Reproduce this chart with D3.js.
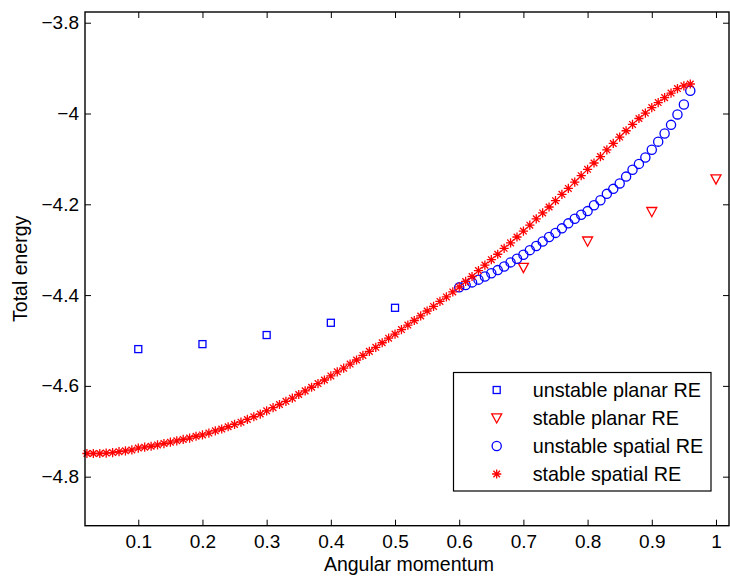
<!DOCTYPE html>
<html>
<head>
<meta charset="utf-8">
<script src="https://cdn.jsdelivr.net/npm/d3@7"></script>
<style>
  html, body { margin: 0; padding: 0; background: #fff; }
  svg { display: block; }
  text { font-family: "Liberation Sans", Arial, Helvetica, sans-serif; fill: #000; }
</style>
</head>
<body>
<svg id="chart" width="730" height="580"></svg>
<script>
// ---- data ----
const seriesNames = ["unstable planar RE", "stable planar RE", "unstable spatial RE", "stable spatial RE"];

const unstablePlanarL = [0.1, 0.2, 0.3, 0.4, 0.5];
const unstablePlanarE = [-4.519, -4.508, -4.488, -4.461, -4.428];

const stablePlanarL = [0.7, 0.8, 0.9, 1.0];
const stablePlanarE = [-4.340, -4.282, -4.217, -4.145];

const unstableSpatialL = [0.60,0.61,0.62,0.63,0.64,0.65,0.66,0.67,0.68,0.69,0.70,0.71,0.72,0.73,0.74,0.75,0.76,0.77,0.78,0.79,
  0.80,0.81,0.82,0.83,0.84,0.85,0.86,0.87,0.88,0.89,0.90,0.91,0.92,0.93,0.94,0.95,0.96];
const unstableSpatialE = [-4.383,-4.378,-4.372,-4.366,-4.359,-4.352,-4.345,-4.337,-4.328,-4.320,
  -4.311,-4.301,-4.292,-4.282,-4.272,-4.263,-4.253,-4.242,-4.232,-4.223,
  -4.215,-4.202,-4.191,-4.177,-4.166,-4.154,-4.139,-4.124,-4.111,-4.097,
  -4.080,-4.062,-4.044,-4.025,-4.002,-3.980,-3.950];

const stableSpatialL = [0.02,0.03,0.04,0.05,0.06,0.07,0.08,0.09,0.10,0.11,0.12,0.13,0.14,0.15,0.16,0.17,0.18,0.19,
  0.20,0.21,0.22,0.23,0.24,0.25,0.26,0.27,0.28,0.29,0.30,0.31,0.32,0.33,0.34,0.35,0.36,0.37,0.38,0.39,
  0.40,0.41,0.42,0.43,0.44,0.45,0.46,0.47,0.48,0.49,0.50,0.51,0.52,0.53,0.54,0.55,0.56,0.57,0.58,0.59,
  0.60,0.61,0.62,0.63,0.64,0.65,0.66,0.67,0.68,0.69,0.70,0.71,0.72,0.73,0.74,0.75,0.76,0.77,0.78,0.79,
  0.80,0.81,0.82,0.83,0.84,0.85,0.86,0.87,0.88,0.89,0.90,0.91,0.92,0.93,0.94,0.95,0.96];
const stableSpatialE = [-4.749,-4.749,-4.749,-4.748,-4.747,-4.745,-4.743,-4.741,
  -4.737,-4.735,-4.733,-4.730,-4.727,-4.724,-4.721,-4.718,-4.715,-4.711,
  -4.708,-4.704,-4.699,-4.695,-4.690,-4.685,-4.680,-4.674,-4.668,-4.662,
  -4.655,-4.648,-4.641,-4.634,-4.627,-4.619,-4.611,-4.603,-4.595,-4.587,
  -4.578,-4.569,-4.561,-4.552,-4.543,-4.533,-4.524,-4.515,-4.505,-4.495,
  -4.486,-4.476,-4.466,-4.456,-4.446,-4.435,-4.425,-4.414,-4.404,-4.393,
  -4.382,-4.370,-4.359,-4.346,-4.334,-4.322,-4.310,-4.297,-4.285,-4.272,
  -4.259,-4.246,-4.232,-4.219,-4.206,-4.192,-4.178,-4.165,-4.151,-4.137,
  -4.123,-4.109,-4.095,-4.080,-4.066,-4.052,-4.038,-4.024,-4.011,-3.999,
  -3.987,-3.976,-3.965,-3.955,-3.945,-3.939,-3.935];

const xTicks = [0.1, 0.2, 0.3, 0.4, 0.5, 0.6, 0.7, 0.8, 0.9, 1];
const yTicks = [-3.8, -4, -4.2, -4.4, -4.6, -4.8];
const xLabel = "Angular momentum";
const yLabel = "Total energy";

// ---- layout ----
const plot = { left: 85, right: 729, top: 12, bottom: 525.7 };
const svg = d3.select("#chart");

const x = d3.scaleLinear().domain([0.017, 1.0203]).range([plot.left, plot.right]);
const y = d3.scaleLinear().domain([-4.908, -3.7764]).range([plot.bottom, plot.top]);

const fmt = d => d3.format("~g")(d);
const FS = 19;
const FS_LABEL = 19.5;
const FS_LEGEND = 19.8;

// axes
const gx = svg.append("g").attr("transform", `translate(0,${plot.bottom})`)
  .call(d3.axisBottom(x).tickValues(xTicks).tickFormat(fmt).tickSizeInner(-6).tickSizeOuter(0).tickPadding(9));
const gxt = svg.append("g").attr("transform", `translate(0,${plot.top})`)
  .call(d3.axisTop(x).tickValues(xTicks).tickFormat("").tickSizeInner(-6).tickSizeOuter(0));
const gy = svg.append("g").attr("transform", `translate(${plot.left},0)`)
  .call(d3.axisLeft(y).tickValues(yTicks).tickFormat(fmt).tickSizeInner(-6).tickSizeOuter(0).tickPadding(6));
const gyr = svg.append("g").attr("transform", `translate(${plot.right},0)`)
  .call(d3.axisRight(y).tickValues(yTicks).tickFormat("").tickSizeInner(-6).tickSizeOuter(0));

[gx, gxt, gy, gyr].forEach(g => {
  g.select(".domain").remove();
  g.selectAll(".tick line").attr("stroke", "#000").attr("stroke-width", 1);
  g.selectAll("text").attr("font-size", FS).attr("font-family", "Liberation Sans, Arial, sans-serif").attr("fill", "#000");
});

// data marks
const BLUE = "#0000ff", RED = "#ff0000";
const SW = 1.3;
const marks = svg.append("g");

function pts(L, E) { return L.map((l, i) => ({ l, e: E[i] })); }

// squares
marks.selectAll("rect.sq").data(pts(unstablePlanarL, unstablePlanarE)).join("rect")
  .attr("class", "sq")
  .attr("x", d => x(d.l) - 3.5).attr("y", d => y(d.e) - 3.5)
  .attr("width", 7).attr("height", 7)
  .attr("fill", "none").attr("stroke", BLUE).attr("stroke-width", SW);

// triangles (down)
const triPath = "M-5,-4.5L5,-4.5L0,4.7Z";
marks.selectAll("path.tri").data(pts(stablePlanarL, stablePlanarE)).join("path")
  .attr("class", "tri")
  .attr("transform", d => `translate(${x(d.l)},${y(d.e)})`)
  .attr("d", triPath)
  .attr("fill", "none").attr("stroke", RED).attr("stroke-width", SW);

// circles
marks.selectAll("circle.ci").data(pts(unstableSpatialL, unstableSpatialE)).join("circle")
  .attr("class", "ci")
  .attr("cx", d => x(d.l)).attr("cy", d => y(d.e)).attr("r", 4.6)
  .attr("fill", "none").attr("stroke", BLUE).attr("stroke-width", SW);

// stars
const r = 4.6, a = 3.3;
const starPath = `M${-r},0H${r}M0,${-r}V${r}M${-a},${-a}L${a},${a}M${-a},${a}L${a},${-a}`;
marks.selectAll("path.st").data(pts(stableSpatialL, stableSpatialE)).join("path")
  .attr("class", "st")
  .attr("transform", d => `translate(${x(d.l)},${y(d.e)})`)
  .attr("d", starPath)
  .attr("fill", "none").attr("stroke", RED).attr("stroke-width", SW);

// axes box
svg.append("rect")
  .attr("x", plot.left).attr("y", plot.top)
  .attr("width", plot.right - plot.left).attr("height", plot.bottom - plot.top)
  .attr("fill", "none").attr("stroke", "#000").attr("stroke-width", 1.4);

// axis labels
svg.append("text").attr("x", (plot.left + plot.right) / 2 + 2).attr("y", 570.5)
  .attr("text-anchor", "middle").attr("font-size", FS_LABEL).text(xLabel);
svg.append("text").attr("transform", `translate(26.5,${(plot.top + plot.bottom) / 2}) rotate(-90)`)
  .attr("text-anchor", "middle").attr("font-size", FS_LABEL).text(yLabel);

// legend
const lg = svg.append("g");
lg.append("rect").attr("x", 453.5).attr("y", 372.5).attr("width", 257.5).attr("height", 118.5)
  .attr("fill", "#fff").attr("stroke", "#000").attr("stroke-width", 1.2);
const rowY = [390, 418.3, 446, 474];
const mx = 496.7, tx = 532.7;
lg.append("rect").attr("x", mx - 3.5).attr("y", rowY[0] - 3.5).attr("width", 7).attr("height", 7)
  .attr("fill", "none").attr("stroke", BLUE).attr("stroke-width", SW);
lg.append("path").attr("transform", `translate(${mx},${rowY[1]})`).attr("d", triPath)
  .attr("fill", "none").attr("stroke", RED).attr("stroke-width", SW);
lg.append("circle").attr("cx", mx).attr("cy", rowY[2]).attr("r", 4.6)
  .attr("fill", "none").attr("stroke", BLUE).attr("stroke-width", SW);
lg.append("path").attr("transform", `translate(${mx},${rowY[3]})`).attr("d", starPath)
  .attr("fill", "none").attr("stroke", RED).attr("stroke-width", SW);
seriesNames.forEach((n, i) => {
  lg.append("text").attr("x", tx).attr("y", rowY[i] + 7).attr("font-size", FS_LEGEND).text(n);
});
</script>
</body>
</html>
